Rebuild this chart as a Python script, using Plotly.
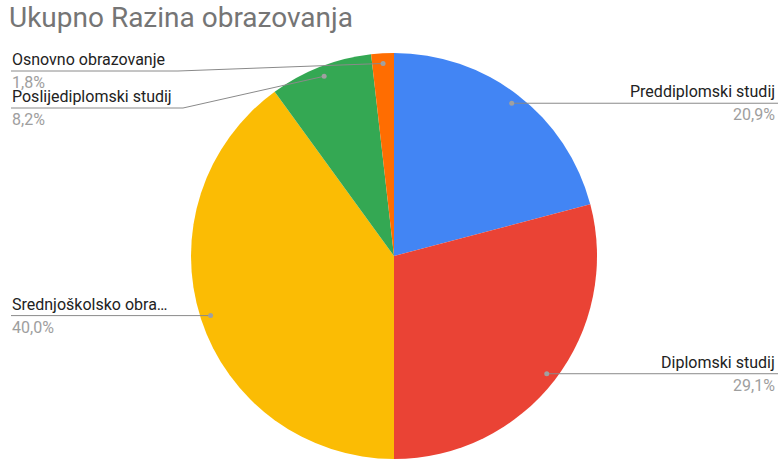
import math
import plotly.graph_objects as go

# ---- data ----
categories = ["Preddiplomski studij", "Diplomski studij", "Srednjoškolsko obrazovanje",
              "Poslijediplomski studij", "Osnovno obrazovanje"]
short_labels = ["Preddiplomski studij", "Diplomski studij", "Srednjoškolsko obra…",
                "Poslijediplomski studij", "Osnovno obrazovanje"]
values = [20.9, 29.1, 40.0, 8.2, 1.8]
pct_labels = ["20,9%", "29,1%", "40,0%", "8,2%", "1,8%"]
colors = ["#4285F4", "#EA4335", "#FBBC04", "#34A853", "#FF6D01"]
title_text = "Ukupno Razina obrazovanja"

# ---- layout geometry (page pixels) ----
W, H = 778, 459
CX, CY, R = 394, 256, 203
FONT = "Roboto, Arial, sans-serif"
LINE_COLOR = "#8a8a8a"
DOT_COLOR = "#a0a0a0"
LABEL_COLOR = "#222222"
PCT_COLOR = "#9e9e9e"

def px(x):
    return min(1.0, max(0.0, x / W))

def py(y):
    return min(1.0, max(0.0, 1 - y / H))

fig = go.Figure(go.Pie(
    labels=categories,
    values=values,
    marker=dict(colors=colors, line=dict(width=0)),
    sort=False,
    direction="clockwise",
    rotation=0,
    textinfo="none",
    hoverinfo="label+percent",
    showlegend=False,
    domain=dict(x=[px(CX - R), px(CX + R)], y=[py(CY + R), py(CY - R)]),
))

# dot positions computed from the data (midpoint angle of each slice)
total = sum(values)
dots = []
acc = 0
for v in values:
    mid = (acc + v / 2) / total * 2 * math.pi
    acc += v
    dots.append((CX + 0.95 * R * math.sin(mid), CY - 0.95 * R * math.cos(mid)))

shapes = []
annotations = []

# side / label placement (layout): side, elbow x, label line y
placement = [
    ("right", None, None),
    ("right", None, None),
    ("left", None, None),
    ("left", 183, 108),
    ("left", 178, 71),
]

for i, (side, ex, ly) in enumerate(placement):
    dx, dy = dots[i]
    if ly is None:
        ly = dy
    if side == "right":
        shapes.append(dict(type="line", xref="paper", yref="paper",
                           x0=px(dx), y0=py(dy), x1=px(W), y1=py(ly),
                           line=dict(color=LINE_COLOR, width=1)))
        xa, anchor, x_text = "right", "right", px(776)
    else:
        if ex is None:
            shapes.append(dict(type="line", xref="paper", yref="paper",
                               x0=px(11), y0=py(ly), x1=px(dx), y1=py(dy),
                               line=dict(color=LINE_COLOR, width=1)))
        else:
            shapes.append(dict(type="path", xref="paper", yref="paper",
                               path=f"M {px(11)} {py(ly)} L {px(ex)} {py(ly)} L {px(dx)} {py(dy)}",
                               line=dict(color=LINE_COLOR, width=1)))
        xa, anchor, x_text = "left", "left", px(11)
    shapes.append(dict(type="circle", xref="paper", yref="paper",
                       x0=px(dx - 2.5), x1=px(dx + 2.5), y0=py(dy - 2.5), y1=py(dy + 2.5),
                       fillcolor=DOT_COLOR, line=dict(width=0)))
    annotations.append(dict(xref="paper", yref="paper", x=x_text, y=py(ly - 1),
                            xanchor=anchor, yanchor="bottom", align=xa,
                            text=short_labels[i], showarrow=False,
                            font=dict(family=FONT, size=16, color=LABEL_COLOR),
                            borderpad=0))
    annotations.append(dict(xref="paper", yref="paper", x=x_text, y=py(ly + 1),
                            xanchor=anchor, yanchor="top", align=xa,
                            text=pct_labels[i], showarrow=False,
                            font=dict(family=FONT, size=16, color=PCT_COLOR),
                            borderpad=0))

fig.update_layout(
    width=W, height=H,
    margin=dict(l=0, r=0, t=0, b=0),
    paper_bgcolor="white",
    plot_bgcolor="white",
    title=dict(text=title_text, x=px(9), xref="container", xanchor="left",
               y=py(7), yref="container", yanchor="top", pad=dict(t=0, b=0, l=0, r=0),
               font=dict(family=FONT, size=28, color="#757575")),
    shapes=shapes,
    annotations=annotations,
)

fig.write_html(
    "out.html",
    config={"displayModeBar": False},
    post_script="document.body.style.margin='0';"
                "document.documentElement.style.overflow='hidden';"
                "document.body.style.overflow='hidden';",
)
